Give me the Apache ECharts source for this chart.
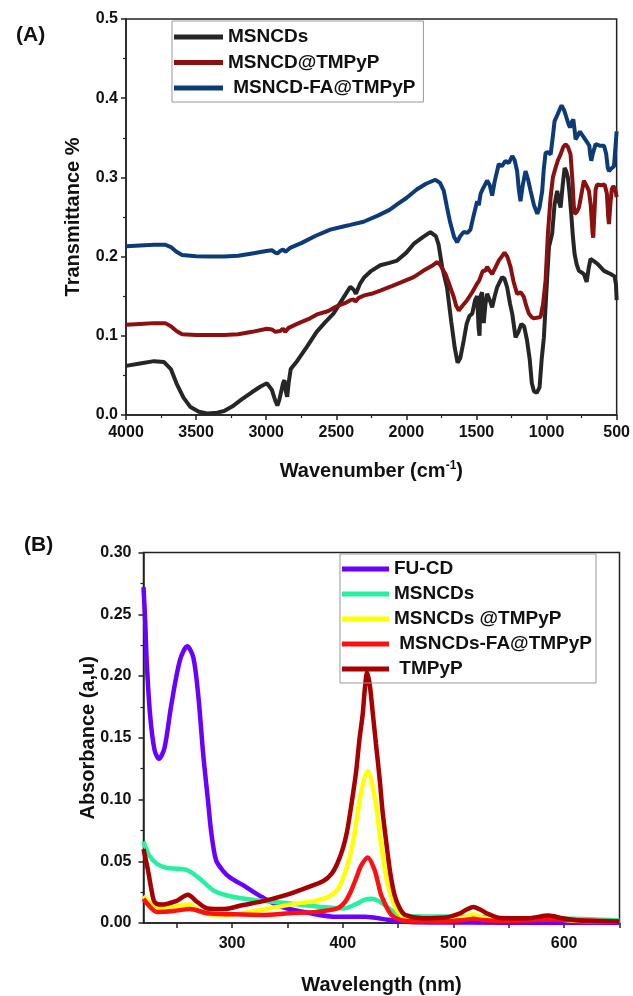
<!DOCTYPE html>
<html>
<head>
<meta charset="utf-8">
<script src="https://cdn.jsdelivr.net/npm/echarts@6/dist/echarts.min.js"></script>
<style>
    html, body { margin: 0; padding: 0; background: #fff; }
    #chart { width: 633px; height: 996px; }
</style>
</head>
<body>
<div id="chart"></div>
<script>
// ---- (A) FTIR ----
var msncdsWn = [4000, 3900, 3800, 3730, 3680, 3640, 3590, 3540, 3480, 3420, 3350, 3300, 3240, 3180, 3100, 3040, 2995, 2960, 2935, 2920, 2905, 2880, 2870, 2860, 2850, 2840, 2825, 2780, 2710, 2640, 2580, 2520, 2460, 2400, 2375, 2360, 2330, 2300, 2250, 2186, 2120, 2066, 2000, 1948, 1880, 1829, 1790, 1770, 1745, 1710, 1680, 1655, 1635, 1615, 1590, 1570, 1550, 1530, 1510, 1495, 1485, 1478, 1471, 1460, 1448, 1436, 1424, 1405, 1388, 1370, 1353, 1317, 1300, 1281, 1260, 1245, 1221, 1200, 1180, 1160, 1140, 1120, 1105, 1090, 1070, 1050, 1035, 1019, 1000, 983, 960, 943, 924, 912, 900, 885, 871, 860, 848, 836, 824, 812, 800, 785, 769, 750, 734, 714, 700, 686, 660, 638, 590, 543, 515, 505, 500];
var msncdsT = [0.062, 0.065, 0.068, 0.067, 0.058, 0.040, 0.022, 0.010, 0.004, 0.002, 0.003, 0.005, 0.011, 0.019, 0.029, 0.036, 0.040, 0.032, 0.018, 0.012, 0.020, 0.040, 0.044, 0.030, 0.023, 0.040, 0.058, 0.068, 0.086, 0.105, 0.117, 0.128, 0.145, 0.162, 0.158, 0.153, 0.166, 0.174, 0.182, 0.189, 0.192, 0.195, 0.205, 0.216, 0.225, 0.231, 0.226, 0.215, 0.187, 0.161, 0.118, 0.085, 0.066, 0.072, 0.095, 0.115, 0.125, 0.128, 0.145, 0.150, 0.110, 0.100, 0.150, 0.155, 0.116, 0.140, 0.153, 0.145, 0.136, 0.150, 0.161, 0.174, 0.172, 0.161, 0.140, 0.128, 0.098, 0.105, 0.115, 0.112, 0.095, 0.070, 0.040, 0.030, 0.028, 0.035, 0.070, 0.098, 0.160, 0.212, 0.229, 0.266, 0.283, 0.270, 0.262, 0.290, 0.312, 0.308, 0.300, 0.280, 0.254, 0.225, 0.203, 0.190, 0.182, 0.180, 0.178, 0.168, 0.185, 0.197, 0.194, 0.191, 0.182, 0.178, 0.175, 0.165, 0.145];

var msncdTmpypWn = [4000, 3900, 3800, 3720, 3680, 3640, 3600, 3500, 3400, 3300, 3200, 3100, 2995, 2960, 2935, 2924, 2900, 2880, 2865, 2852, 2840, 2780, 2700, 2638, 2560, 2500, 2430, 2400, 2375, 2364, 2340, 2300, 2250, 2186, 2100, 2030, 1948, 1880, 1820, 1781, 1760, 1735, 1721, 1700, 1680, 1662, 1645, 1626, 1600, 1567, 1530, 1495, 1480, 1471, 1455, 1436, 1424, 1405, 1388, 1376, 1341, 1320, 1300, 1280, 1257, 1235, 1210, 1185, 1162, 1145, 1126, 1108, 1091, 1060, 1043, 1025, 1007, 990, 971, 955, 936, 918, 900, 882, 864, 846, 829, 815, 806, 800, 785, 769, 750, 734, 716, 698, 685, 672, 667, 660, 650, 638, 610, 586, 570, 560, 555, 545, 535, 524, 510, 500];
var msncdTmpypT = [0.114, 0.115, 0.116, 0.116, 0.112, 0.106, 0.102, 0.101, 0.101, 0.101, 0.102, 0.105, 0.109, 0.108, 0.105, 0.104, 0.106, 0.109, 0.105, 0.106, 0.110, 0.115, 0.121, 0.127, 0.131, 0.137, 0.142, 0.145, 0.146, 0.143, 0.148, 0.151, 0.153, 0.157, 0.163, 0.168, 0.174, 0.182, 0.188, 0.193, 0.190, 0.182, 0.178, 0.168, 0.158, 0.149, 0.138, 0.132, 0.138, 0.145, 0.155, 0.166, 0.170, 0.168, 0.182, 0.182, 0.187, 0.182, 0.178, 0.180, 0.195, 0.200, 0.205, 0.200, 0.187, 0.168, 0.153, 0.155, 0.149, 0.138, 0.128, 0.124, 0.122, 0.123, 0.124, 0.140, 0.170, 0.230, 0.275, 0.300, 0.312, 0.322, 0.329, 0.338, 0.342, 0.338, 0.329, 0.295, 0.265, 0.254, 0.256, 0.262, 0.280, 0.296, 0.290, 0.283, 0.265, 0.230, 0.224, 0.250, 0.285, 0.291, 0.290, 0.291, 0.280, 0.250, 0.241, 0.265, 0.285, 0.289, 0.285, 0.275];

var msncdFaWn = [4000, 3900, 3800, 3720, 3680, 3640, 3600, 3500, 3400, 3300, 3200, 3100, 3000, 2960, 2935, 2920, 2900, 2880, 2862, 2850, 2830, 2750, 2650, 2543, 2450, 2400, 2305, 2200, 2120, 2066, 2000, 1924, 1860, 1793, 1760, 1733, 1710, 1690, 1660, 1638, 1615, 1591, 1565, 1543, 1520, 1495, 1483, 1471, 1459, 1445, 1424, 1405, 1388, 1370, 1341, 1320, 1293, 1270, 1245, 1228, 1210, 1198, 1186, 1170, 1150, 1130, 1114, 1090, 1066, 1050, 1031, 1020, 1007, 990, 971, 955, 943, 920, 893, 875, 857, 845, 833, 820, 809, 800, 793, 780, 762, 740, 709, 695, 688, 681, 670, 650, 620, 590, 575, 563, 555, 540, 519, 510, 500];
var msncdFaT = [0.213, 0.214, 0.215, 0.215, 0.212, 0.206, 0.202, 0.2005, 0.200, 0.200, 0.201, 0.204, 0.207, 0.208, 0.205, 0.204, 0.207, 0.209, 0.206, 0.208, 0.211, 0.217, 0.226, 0.234, 0.238, 0.240, 0.244, 0.252, 0.259, 0.266, 0.274, 0.285, 0.292, 0.297, 0.293, 0.283, 0.262, 0.245, 0.225, 0.218, 0.226, 0.231, 0.230, 0.234, 0.252, 0.270, 0.265, 0.279, 0.284, 0.282, 0.296, 0.290, 0.277, 0.295, 0.317, 0.314, 0.321, 0.318, 0.327, 0.322, 0.308, 0.285, 0.270, 0.290, 0.308, 0.296, 0.283, 0.265, 0.254, 0.262, 0.283, 0.310, 0.331, 0.332, 0.329, 0.352, 0.371, 0.380, 0.391, 0.385, 0.375, 0.368, 0.363, 0.370, 0.373, 0.360, 0.348, 0.352, 0.358, 0.352, 0.344, 0.340, 0.328, 0.321, 0.330, 0.342, 0.340, 0.340, 0.330, 0.312, 0.308, 0.311, 0.314, 0.335, 0.358];

// ---- (B) UV-Vis ----
var fucdNm = [220, 221.5, 223, 226, 230, 234, 239, 245, 253, 259.5, 265, 269.5, 274, 278.5, 281, 285.5, 292, 298, 311, 327, 345, 370, 395, 420, 441, 456, 480, 550, 650];
var fucdAbs = [0.272, 0.245, 0.210, 0.168, 0.140, 0.133, 0.142, 0.176, 0.213, 0.224, 0.215, 0.184, 0.136, 0.097, 0.075, 0.051, 0.042, 0.037, 0.030, 0.021, 0.013, 0.008, 0.005, 0.005, 0.0026, 0.001, 0.0005, 0.0003, 0.0003];

var msncdsNm = [220, 225, 232, 241, 250, 259, 265, 272, 284, 302, 327, 352, 380, 401, 413, 420, 426, 432, 438, 446, 453, 472, 493, 518, 549, 580, 610, 635, 650];
var msncdsAbs = [0.066, 0.055, 0.048, 0.0445, 0.044, 0.043, 0.040, 0.035, 0.026, 0.021, 0.018, 0.0157, 0.013, 0.0118, 0.0157, 0.019, 0.0196, 0.018, 0.0144, 0.009, 0.0065, 0.0052, 0.0052, 0.005, 0.004, 0.0034, 0.0034, 0.0026, 0.002];

var msncdsTmpypNm = [220, 226, 232, 247, 261, 272, 290, 309, 333, 358, 376, 389, 396, 401, 406, 410, 416, 422.5, 428.7, 432, 435, 441, 450, 463, 487, 506, 512, 518, 524, 530, 564, 586, 604, 650];
var msncdsTmpypAbs = [0.022, 0.016, 0.0118, 0.013, 0.0149, 0.009, 0.006, 0.0079, 0.0118, 0.0157, 0.018, 0.022, 0.028, 0.038, 0.052, 0.069, 0.103, 0.123, 0.103, 0.082, 0.0615, 0.030, 0.009, 0.0034, 0.0026, 0.0034, 0.005, 0.007, 0.005, 0.0034, 0.0026, 0.0039, 0.002, 0.0013];

var msncdsFaNm = [220, 226, 232, 247, 262, 278, 302, 327, 352, 376, 395, 402, 407, 412, 416.4, 422.6, 428.7, 432, 435, 444, 456, 487, 510, 518, 526, 549, 586, 650];
var msncdsFaAbs = [0.0196, 0.013, 0.009, 0.0097, 0.0113, 0.0079, 0.007, 0.0065, 0.0079, 0.009, 0.0118, 0.017, 0.025, 0.036, 0.046, 0.053, 0.043, 0.032, 0.022, 0.0065, 0.0018, 0.0013, 0.0025, 0.0034, 0.0025, 0.0018, 0.0026, 0.0013];

var tmpypNm = [220, 224, 227, 230, 236, 250, 260, 268.6, 277.8, 293, 309, 327, 346, 364, 382.5, 390, 395, 400, 404, 408, 412, 415, 418, 420, 422, 424.5, 427, 430, 433.4, 436, 439.5, 443, 447, 452, 456.5, 472, 493, 506, 512, 518, 524, 530, 543, 567, 586, 598, 617, 650];
var tmpypAbs = [0.060, 0.043, 0.028, 0.017, 0.0149, 0.018, 0.0228, 0.017, 0.0118, 0.0113, 0.0144, 0.0175, 0.022, 0.0275, 0.034, 0.040, 0.048, 0.060, 0.0746, 0.097, 0.122, 0.148, 0.169, 0.190, 0.203, 0.192, 0.171, 0.145, 0.116, 0.090, 0.064, 0.040, 0.022, 0.011, 0.0065, 0.0039, 0.0045, 0.0079, 0.011, 0.013, 0.011, 0.0079, 0.0039, 0.0039, 0.006, 0.0039, 0.0018, 0.0013];

var uvLabelTicks = [300, 400, 500, 600];
var uvTicks = [250, 300, 350, 400, 450, 500, 550, 600, 650];

function pairs(xs, ys) {
    return xs.map(function (x, i) { return [x, ys[i]]; });
}

var FONT = 'Liberation Sans, Arial, sans-serif';
var AXIS_COLOR = '#222';

function axisBase() {
    return {
        axisLine: { show: true, lineStyle: { color: AXIS_COLOR, width: 1.5 } },
        axisTick: { show: true, inside: false, length: 5, lineStyle: { color: AXIS_COLOR, width: 1.5 } },
        minorTick: { show: true, splitNumber: 2, length: 3, lineStyle: { color: AXIS_COLOR, width: 1.2 } },
        splitLine: { show: false },
        minorSplitLine: { show: false },
        axisLabel: { color: '#111', fontSize: 16, fontWeight: 'bold', fontFamily: FONT },
        nameLocation: 'middle',
        nameMoveOverlap: false,
        nameTextStyle: { color: '#111', fontSize: 20, fontWeight: 'bold', fontFamily: FONT }
    };
}

function line(name, data, color, width, xi, smooth) {
    return {
        name: name,
        type: 'line',
        xAxisIndex: xi,
        yAxisIndex: xi,
        data: data,
        symbol: 'none',
        smooth: smooth,
        lineStyle: { color: color, width: width },
        itemStyle: { color: color },
        animation: false
    };
}

var myChart = echarts.init(document.getElementById('chart'), null, { renderer: 'canvas' });

// (A) axes
var xA = axisBase();
Object.assign(xA, {
    type: 'value', gridIndex: 0, inverse: true, min: 500, max: 4000, interval: 500,
    name: 'Wavenumber (cm{sup|-1})', nameGap: 45
});
xA.axisLabel = Object.assign({}, xA.axisLabel, { margin: 10, formatter: function (v) { return String(v); } });
xA.nameTextStyle = Object.assign({}, xA.nameTextStyle, {
    rich: { sup: { fontSize: 12, fontWeight: 'bold', fontFamily: FONT, color: '#111', verticalAlign: 'top', padding: [0, 0, 10, 0] } }
});

var yA = axisBase();
Object.assign(yA, {
    type: 'value', gridIndex: 0, min: 0, max: 0.5, interval: 0.1,
    name: 'Transmittance %', nameGap: 43
});
yA.axisLabel = Object.assign({}, yA.axisLabel, { margin: 8, formatter: function (v) { return v.toFixed(1); } });

// (B) axes
var xB = axisBase();
Object.assign(xB, {
    type: 'value', gridIndex: 1, min: 220, max: 650,
    name: 'Wavelength (nm)', nameGap: 52
});
xB.axisLabel = Object.assign({}, xB.axisLabel, { margin: 13, customValues: uvLabelTicks, formatter: function (v) { return String(v); } });
xB.axisTick = Object.assign({}, xB.axisTick, { customValues: uvTicks });
xB.minorTick = { show: false };

var yB = axisBase();
Object.assign(yB, {
    type: 'value', gridIndex: 1, min: 0, max: 0.3, interval: 0.05,
    name: 'Absorbance (a,u)', nameGap: 45
});
yB.axisLabel = Object.assign({}, yB.axisLabel, { margin: 12, formatter: function (v) { return v.toFixed(2); } });

var legendText = { color: '#111', fontSize: 19, fontWeight: 'bold', fontFamily: FONT, lineHeight: 20 };

var option = {
    backgroundColor: '#fff',
    animation: false,
    title: [
        { text: '(A)', left: 11, top: 20, textStyle: { fontSize: 21, fontWeight: 'bold', fontFamily: FONT, color: '#111' } },
        { text: '(B)', left: 19, top: 530, textStyle: { fontSize: 21, fontWeight: 'bold', fontFamily: FONT, color: '#111' } }
    ],
    grid: [
        { left: 126, top: 19, width: 491, height: 396, show: true, borderColor: AXIS_COLOR, borderWidth: 1.5 },
        { left: 143.5, top: 552.5, width: 476, height: 380.5, show: true, borderColor: AXIS_COLOR, borderWidth: 1.5 }
    ],
    legend: [
        {
            data: ['MSNCDs', 'MSNCD@TMPyP', ' MSNCD-FA@TMPyP'],
            orient: 'vertical', left: 172, top: 21,
            icon: 'rect', itemWidth: 49, itemHeight: 5, itemGap: 5.5,
            padding: [6, 8, 4, 2],
            borderColor: '#999', borderWidth: 1,
            textStyle: legendText
        },
        {
            data: ['FU-CD', 'MSNCDs ', 'MSNCDs @TMPyP', ' MSNCDs-FA@TMPyP', ' TMPyP'],
            orient: 'vertical', left: 340, top: 554,
            icon: 'rect', itemWidth: 47, itemHeight: 5, itemGap: 5,
            padding: [5, 4, 4, 2],
            borderColor: '#999', borderWidth: 1,
            textStyle: legendText
        }
    ],
    xAxis: [xA, xB],
    yAxis: [yA, yB],
    series: [
        line('MSNCDs', pairs(msncdsWn, msncdsT), '#262626', 4, 0, false),
        line('MSNCD@TMPyP', pairs(msncdTmpypWn, msncdTmpypT), '#8b1010', 4, 0, false),
        line(' MSNCD-FA@TMPyP', pairs(msncdFaWn, msncdFaT), '#0c3b77', 4, 0, false),

        line('FU-CD', pairs(fucdNm, fucdAbs), '#6a00ff', 4.5, 1, 0.3),
        line('MSNCDs ', pairs(msncdsNm, msncdsAbs), '#27f0a0', 4.5, 1, 0.3),
        line('MSNCDs @TMPyP', pairs(msncdsTmpypNm, msncdsTmpypAbs), '#ffff00', 4.5, 1, 0.3),
        line(' MSNCDs-FA@TMPyP', pairs(msncdsFaNm, msncdsFaAbs), '#ff1010', 4.5, 1, 0.3),
        line(' TMPyP', pairs(tmpypNm, tmpypAbs), '#a80000', 4.5, 1, 0.3)
    ]
};

myChart.setOption(option, true);
</script>
</body>
</html>
